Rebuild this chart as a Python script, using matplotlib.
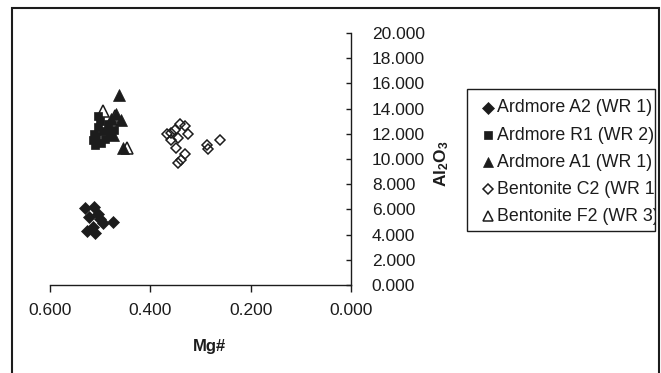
import matplotlib as mpl
mpl.use('Agg')
import matplotlib.pyplot as plt
from matplotlib.patches import Rectangle
from matplotlib.lines import Line2D

plt.rcParams['font.family'] = ['Liberation Sans', 'DejaVu Sans']
plt.rcParams['mathtext.fontset'] = 'custom'
plt.rcParams['mathtext.rm'] = 'Liberation Sans'
plt.rcParams['mathtext.bf'] = 'Liberation Sans:bold'

# Ardmore A2 (WR 1) - filled diamonds
a2_mg = [0.530, 0.512, 0.523, 0.505, 0.500, 0.475, 0.495, 0.515, 0.527, 0.510]
a2_al = [6.1, 6.2, 5.4, 5.6, 5.2, 5.0, 4.9, 4.6, 4.3, 4.1]

# Ardmore R1 (WR 2) - filled squares
r1_mg = [0.515, 0.513, 0.505, 0.500, 0.505, 0.495, 0.490, 0.485, 0.498, 0.510, 0.480, 0.472, 0.508]
r1_al = [11.5, 12.0, 12.5, 13.0, 13.4, 12.2, 11.6, 12.8, 11.3, 11.1, 11.8, 12.3, 11.8]

# Ardmore A1 (WR 1) - filled triangles
a1_mg = [0.463, 0.468, 0.458, 0.455, 0.485, 0.475, 0.478]
a1_al = [15.1, 13.6, 13.1, 10.9, 12.5, 11.9, 13.2]

# Bentonite C2 (WR 1) - open diamonds
c2_mg = [0.367, 0.358, 0.350, 0.341, 0.330, 0.325, 0.345, 0.358, 0.348,
         0.330, 0.345, 0.338, 0.288, 0.285, 0.262]
c2_al = [12.0, 12.1, 12.3, 12.8, 12.6, 12.0, 11.7, 11.5, 10.9,
         10.4, 9.7, 9.9, 11.1, 10.8, 11.5]

# Bentonite F2 (WR 3) - open triangles
f2_mg = [0.494, 0.447, 0.470]
f2_al = [13.8, 10.9, 13.4]

labels = ['Ardmore A2 (WR 1)', 'Ardmore R1 (WR 2)', 'Ardmore A1 (WR 1)',
          'Bentonite C2 (WR 1)', 'Bentonite F2 (WR 3)']
xticks = [0.6, 0.4, 0.2, 0.0]
yticks = [0, 2, 4, 6, 8, 10, 12, 14, 16, 18, 20]

ink = '#1c1c1c'
styles = [
    dict(marker='D', ms=6.6, mfc=ink, mec=ink, mew=0.5),
    dict(marker='s', ms=6.4, mfc=ink, mec=ink, mew=0.5),
    dict(marker='^', ms=8.5, mfc=ink, mec=ink, mew=0.5),
    dict(marker='D', ms=5.6, mfc='none', mec=ink, mew=1.1),
    dict(marker='^', ms=8.5, mfc='none', mec=ink, mew=1.1),
]
series = [(a2_mg, a2_al), (r1_mg, r1_al), (a1_mg, a1_al), (c2_mg, c2_al), (f2_mg, f2_al)]

fig = plt.figure(figsize=(6.61, 3.73), dpi=100)
ax = fig.add_axes([50 / 661, 1 - 285 / 373, 301 / 661, 252 / 373])

for (xs, ys), st in zip(series, styles):
    ax.plot(xs, ys, linestyle='none', clip_on=False, **st)

ax.set_xlim(0.6, 0.0)
ax.set_ylim(0, 20)
ax.set_xticks(xticks)
ax.set_xticklabels([f"{v:.3f}" for v in xticks])
ax.set_yticks(yticks)
ax.set_yticklabels([f"{v:.3f}" for v in yticks])

ax.spines['top'].set_visible(False)
ax.spines['left'].set_visible(False)
ax.spines['right'].set_color(ink)
ax.spines['bottom'].set_color(ink)
ax.spines['right'].set_linewidth(1.0)
ax.spines['bottom'].set_linewidth(1.0)
ax.yaxis.tick_right()
ax.tick_params(axis='y', direction='in', length=3.6, width=1.0, pad=15, labelsize=12.5, colors=ink)
ax.tick_params(axis='x', direction='out', length=5, width=1.0, pad=8, labelsize=12.5, colors=ink)

ax.set_xlabel('Mg#', fontsize=12, fontweight='bold', color=ink)
ax.xaxis.set_label_coords(0.53, -0.215)
ax.yaxis.set_label_position('right')
ax.set_ylabel(r'$\mathbf{Al_2O_3}$', fontsize=12.5, color=ink, rotation=90)
ax.yaxis.set_label_coords(1.27, 0.48)

# chart area frame
fig.add_artist(Rectangle((12 / 661, -0.1), 647 / 661, 1.1 - 8 / 373,
                         transform=fig.transFigure, fill=False, ec=ink, lw=1.5))

# legend box with clipped texts
box = Rectangle((467 / 661, 1 - 231 / 373), 188 / 661, 142 / 373,
                transform=fig.transFigure, fill=False, ec=ink, lw=1.0)
fig.add_artist(box)
rows = [108, 135, 162, 189, 216]
for lab, st, ry in zip(labels, styles, rows):
    yf = 1 - ry / 373
    leg_st = dict(st)
    leg_st['ms'] = st['ms'] * (0.85 if st['marker'] == '^' else 0.95)
    fig.add_artist(Line2D([488 / 661], [yf], transform=fig.transFigure, **leg_st))
    t = fig.text(497 / 661, yf, lab, fontsize=12.8, color=ink, va='center', ha='left')
    t.set_clip_path(box)

fig.savefig('out.png', dpi=100)
